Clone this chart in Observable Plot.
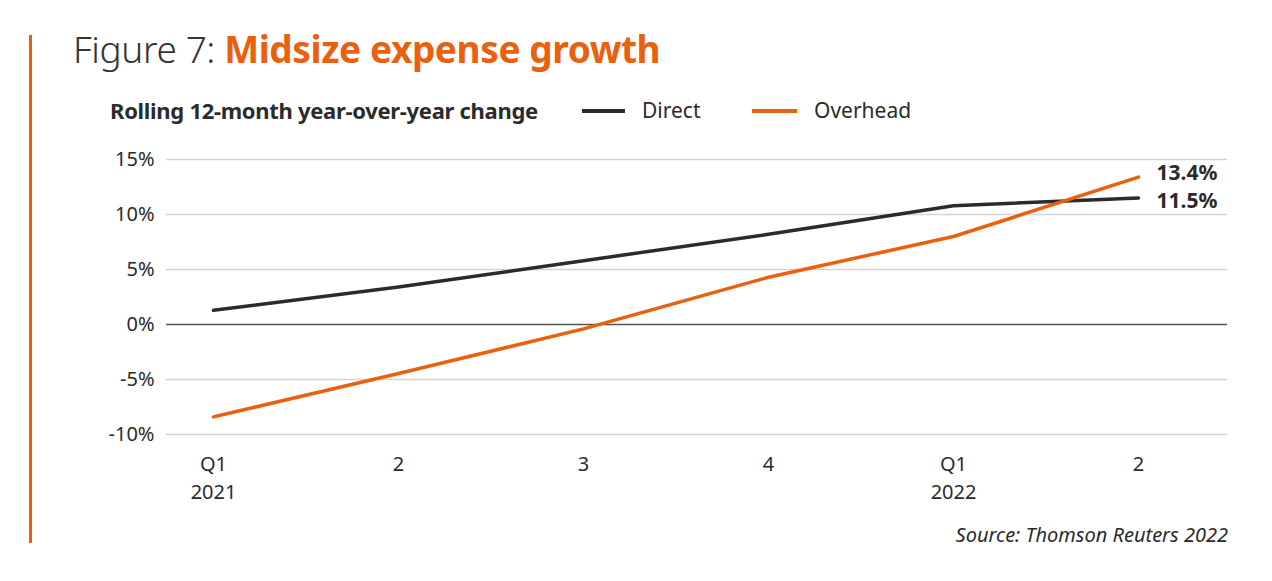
<!DOCTYPE html>
<html>
<head>
<meta charset="utf-8">
<script src="https://cdn.jsdelivr.net/npm/d3@7"></script>
<script src="https://cdn.jsdelivr.net/npm/@observablehq/plot@0.6"></script>
<style>
  html, body { margin: 0; padding: 0; background: #fff; }
  #wrap { position: relative; width: 1272px; height: 581px; font-family: "Noto Sans", sans-serif; color: #2b2b2b; overflow: hidden; }
  #bar { position: absolute; left: 29px; top: 35px; width: 3px; height: 508px; background: #e9600f; }
  #title { position: absolute; left: 73px; top: 23px; font-size: 37px; white-space: nowrap; letter-spacing: -0.4px; }
  #title .a { font-weight: 300; color: #333; }
  #title .b { font-weight: 700; color: #e9600f; }
  #sub { position: absolute; left: 110px; top: 95px; font-size: 22px; font-weight: 700; white-space: nowrap; color: #2b2b2b; letter-spacing: -0.3px; }
  .leg { position: absolute; top: 96px; font-size: 21px; white-space: nowrap; color: #2b2b2b; }
  .sw { position: absolute; height: 4px; top: 109px; }
  #chart { position: absolute; left: 0; top: 130px; }
  #src { position: absolute; right: 44px; top: 521px; font-size: 20px; font-style: italic; color: #2b2b2b; white-space: nowrap; }
</style>
</head>
<body>
<div id="wrap">
  <div id="bar"></div>
  <div id="title"><span class="a">Figure 7: </span><span class="b">Midsize expense growth</span></div>
  <div id="sub">Rolling 12-month year-over-year change</div>
  <div class="sw" style="left:582px;width:43px;background:#2b2b2b"></div>
  <div class="leg" style="left:642px">Direct</div>
  <div class="sw" style="left:752px;width:45px;background:#e9600f"></div>
  <div class="leg" style="left:814px">Overhead</div>
  <div id="chart"></div>
  <div id="src">Source: Thomson Reuters 2022</div>
</div>
<script>
const quarters = ["Q1 2021", "Q2 2021", "Q3 2021", "Q4 2021", "Q1 2022", "Q2 2022"];
const tickLabels = ["Q1\n2021", "2", "3", "4", "Q1\n2022", "2"];
const direct = [1.3, 3.4, 5.8, 8.2, 10.8, 11.5];
const overhead = [-8.4, -4.45, -0.4, 4.3, 8.0, 13.4];
const yTicks = [-10, -5, 0, 5, 10, 15];
const seriesNames = ["Direct", "Overhead"];
const seriesColors = ["#2b2b2b", "#e9600f"];

const rows = [];
quarters.forEach((q, i) => {
  rows.push({q, series: "Direct", value: direct[i]});
  rows.push({q, series: "Overhead", value: overhead[i]});
});
const lastQ = quarters[quarters.length - 1];
const lastDirect = rows.filter(d => d.q === lastQ && d.series === "Direct");
const lastOverhead = rows.filter(d => d.q === lastQ && d.series === "Overhead");
const fmt = d => d.value.toFixed(1) + "%";

const plot = Plot.plot({
  width: 1272,
  height: 400,
  marginLeft: 166,
  marginRight: 45,
  marginTop: 29,
  marginBottom: 96,
  style: {fontFamily: "Noto Sans, sans-serif", fontSize: "20px", color: "#2b2b2b", background: "transparent"},
  x: {type: "point", domain: quarters, range: [212, 1139], padding: 0},
  y: {domain: [-10, 15]},
  color: {domain: seriesNames, range: seriesColors},
  marks: [
    Plot.ruleY(yTicks.filter(t => t !== 0), {stroke: "#d4d4d4", strokeWidth: 1.5}),
    Plot.ruleY([0], {stroke: "#555", strokeWidth: 1.5}),
    Plot.axisY({ticks: yTicks, tickSize: 0, tickPadding: 12, tickFormat: d => d + "%", fontSize: 20, fill: "#2b2b2b", label: null}),
    Plot.axisX({tickSize: 0, tickPadding: 17, tickFormat: d => tickLabels[quarters.indexOf(d)], fontSize: 20, lineHeight: 1.38, fill: "#2b2b2b", label: null}),
    Plot.line(rows, {x: "q", y: "value", z: "series", stroke: "series", strokeWidth: 3.5, strokeLinecap: "round"}),
    Plot.text(lastOverhead, {x: "q", y: "value", text: fmt, textAnchor: "start", dx: 18, dy: -4, fontSize: 21, fontWeight: 700, fill: "#2b2b2b"}),
    Plot.text(lastDirect, {x: "q", y: "value", text: fmt, textAnchor: "start", dx: 18, dy: 3, fontSize: 21, fontWeight: 700, fill: "#2b2b2b"})
  ]
});
document.getElementById("chart").appendChild(plot);
</script>
</body>
</html>
